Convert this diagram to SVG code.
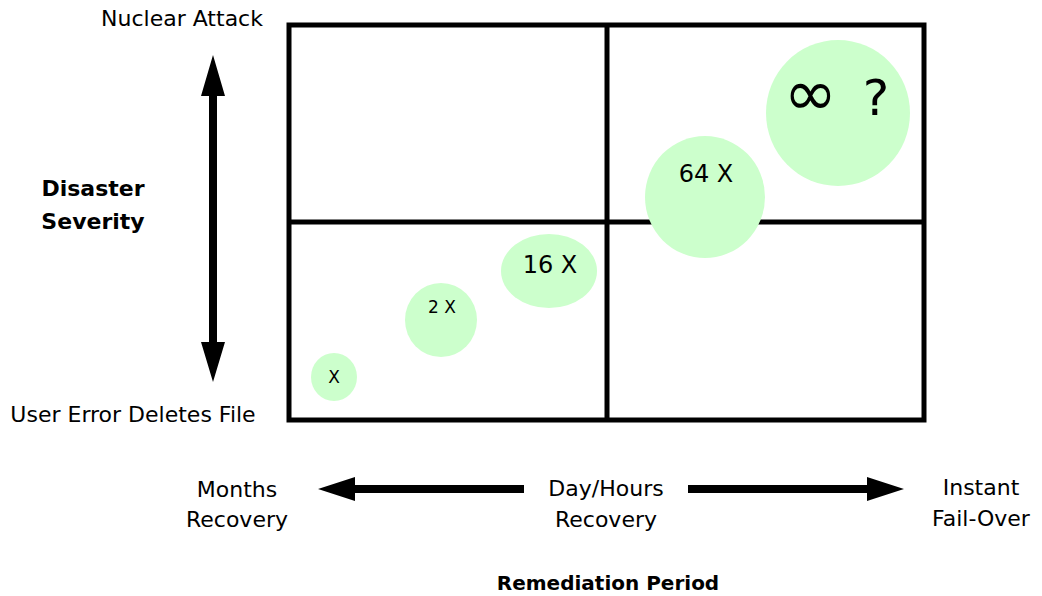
<svg xmlns="http://www.w3.org/2000/svg" width="1042" height="596" viewBox="0 0 1042 596">
<style>
.t{font-family:"DejaVu Sans",sans-serif;fill:#000;text-anchor:middle}
.b{font-weight:bold}
.bub{fill:#ccffcc}
.grid{fill:none;stroke:#000;stroke-width:5}
</style>
<rect width="1042" height="596" fill="#fff"/>
<g id="grid">
<rect class="grid" x="289" y="25" width="635" height="395"/>
<line class="grid" x1="607" y1="25" x2="607" y2="420"/>
<line class="grid" x1="289" y1="222" x2="924" y2="222"/>
</g>
<g id="axes">
<path d="M213,55 L225,96 L217,96 L217,342 L225,342 L213,382 L201,342 L209,342 L209,96 L201,96 Z" fill="#000"/>
<path d="M318,489 L355,477 L355,485 L524,485 L524,493 L355,493 L355,501 Z" fill="#000"/>
<path d="M904,489 L867,477 L867,485 L688,485 L688,493 L867,493 L867,501 Z" fill="#000"/>
</g>
<g id="n-x"><ellipse class="bub" cx="334" cy="377" rx="23" ry="24"/><text class="t" x="334" y="383" font-size="17">X</text></g>
<g id="n-2x"><ellipse class="bub" cx="441" cy="320" rx="36" ry="37"/><text class="t" x="442" y="313" font-size="17">2 X</text></g>
<g id="n-16x"><ellipse class="bub" cx="549" cy="271" rx="48" ry="37"/><text class="t" x="550" y="273" font-size="24">16 X</text></g>
<g id="n-64x"><ellipse class="bub" cx="705" cy="197" rx="60" ry="61"/><text class="t" x="706" y="182" font-size="24">64 X</text></g>
<g id="n-inf"><ellipse class="bub" cx="838" cy="113" rx="72" ry="73"/><text class="t" x="813" y="115"><tspan font-size="64">∞</tspan> <tspan x="876" font-size="50">?</tspan></text></g>
<g id="labels">
<text class="t" x="182" y="26" font-size="22">Nuclear Attack</text>
<text class="t b" x="93" y="196" font-size="22">Disaster</text>
<text class="t b" x="93" y="229" font-size="22">Severity</text>
<text class="t" x="133" y="422" font-size="22">User Error Deletes File</text>
<text class="t" x="237" y="497" font-size="22">Months</text>
<text class="t" x="237" y="527" font-size="22">Recovery</text>
<text class="t" x="606" y="496" font-size="22">Day/Hours</text>
<text class="t" x="606" y="527" font-size="22">Recovery</text>
<text class="t" x="981" y="495" font-size="22">Instant</text>
<text class="t" x="981" y="526" font-size="22">Fail-Over</text>
<text class="t b" x="608" y="590" font-size="20">Remediation Period</text>
</g>
</svg>
